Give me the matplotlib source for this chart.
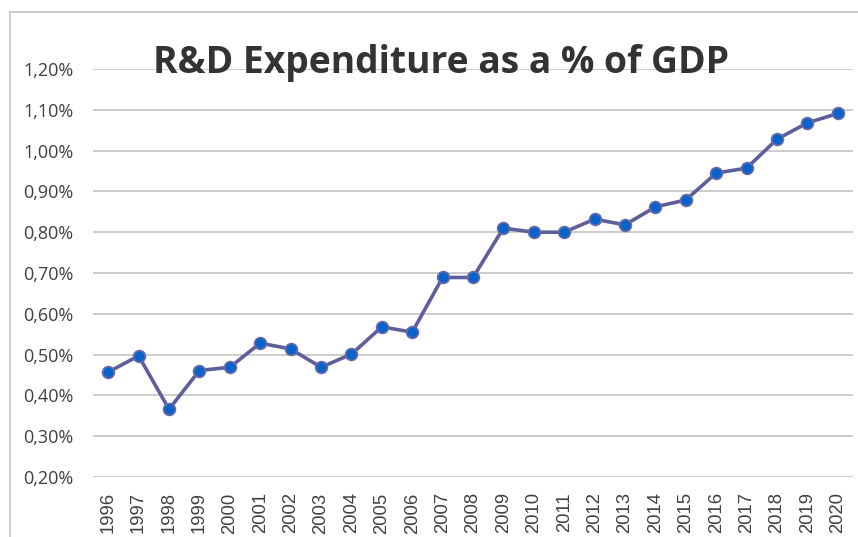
import matplotlib
matplotlib.use("Agg")
import matplotlib.pyplot as plt
from matplotlib.lines import Line2D
from matplotlib.ticker import FuncFormatter, MultipleLocator

years = [str(y) for y in range(1996, 2021)]
values = [0.457, 0.497, 0.366, 0.461, 0.469, 0.528, 0.514, 0.469, 0.501, 0.568,
          0.555, 0.689, 0.689, 0.810, 0.800, 0.800, 0.832, 0.818, 0.862, 0.879,
          0.945, 0.957, 1.028, 1.068, 1.091]
title = "R&D Expenditure as a % of GDP"

W, H = 858, 537
fig = plt.figure(figsize=(W / 100, H / 100), dpi=100)
ax = fig.add_axes([93 / W, 1 - 477 / H, (853 - 93) / W, (477 - 69) / H])

x = list(range(len(years)))
ax.plot(x, values, color="#5E5E9A", lw=2.6, marker="o", ms=8.5,
        markerfacecolor="#0A63C8", markeredgecolor="#6A6AA6", markeredgewidth=1.2,
        zorder=3)

ax.set_xlim(-0.5, len(years) - 0.5)
ax.set_ylim(0.2, 1.2)
ax.yaxis.set_major_locator(MultipleLocator(0.1))
ax.yaxis.set_major_formatter(FuncFormatter(lambda v, p: f"{v:.2f}%".replace(".", ",")))
ax.grid(axis="y", color="#C8C8C8", lw=1.3)
ax.set_axisbelow(True)
for s in ax.spines.values():
    s.set_visible(False)
ax.set_xticks(x)
ax.set_xticklabels(years, rotation=90, fontfamily="Liberation Sans", fontsize=13.3,
                   color="#404040")
ax.tick_params(axis="x", length=0, pad=11)
ax.tick_params(axis="y", length=0, pad=14, labelsize=13, labelcolor="#404040")
for lab in ax.get_yticklabels():
    lab.set_fontfamily("Open Sans")

# chart area border (partially cropped)
fig.add_artist(Line2D([10 / W, 10 / W], [0, 1 - 12 / H], color="#C8C8C8", lw=1.3,
                      transform=fig.transFigure))
fig.add_artist(Line2D([10 / W, 1], [1 - 12 / H, 1 - 12 / H], color="#C8C8C8", lw=1.3,
                      transform=fig.transFigure))

fig.text(441 / W, 1 - 73 / H, title, ha="center", va="baseline",
         fontfamily="Open Sans", fontweight="bold", fontsize=26.8, color="#333333")

fig.savefig("out.png", dpi=100)
